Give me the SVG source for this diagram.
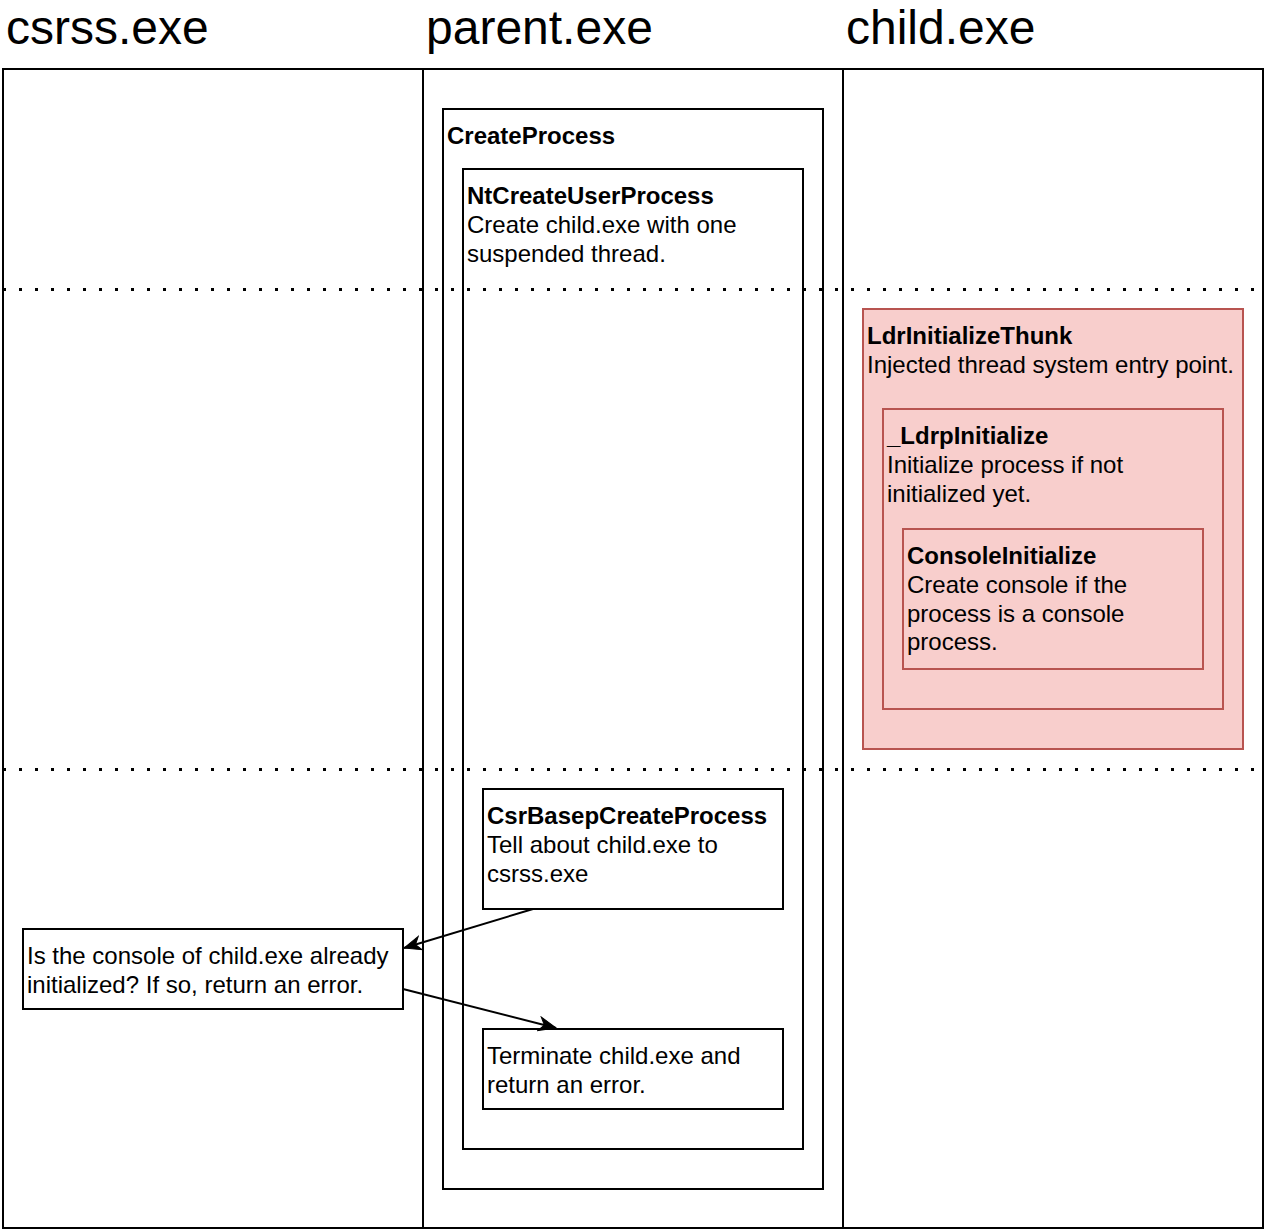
<svg xmlns="http://www.w3.org/2000/svg" width="1266" height="1230" viewBox="0 0 1266 1230">
<defs>
<style>
.hdr{font-family:"Liberation Sans",Arial,sans-serif;font-size:48px;fill:#000}
.t{font-family:"Liberation Sans",Arial,sans-serif;font-size:24px;fill:#000}
.b{font-weight:bold}
.box{fill:none;stroke:#000;stroke-width:2}
.red{fill:#f8cecc;stroke:#b85450;stroke-width:2}
.dot{stroke:#000;stroke-width:3;stroke-dasharray:3 13;fill:none}
.edge{stroke:#000;stroke-width:2;fill:none}
</style>
<marker id="arr" viewBox="-18 -8 19 16" refX="0" refY="0" markerWidth="19" markerHeight="16" markerUnits="userSpaceOnUse" orient="auto">
<path d="M0,0 L-17,-7 L-12,0 L-17,7 Z" fill="#000" stroke="#000" stroke-width="1"/>
</marker>
</defs>
<rect width="1266" height="1230" fill="#fff"/>

<g id="headers">
<text class="hdr" x="6" y="44">csrss.exe</text>
<text class="hdr" x="426" y="44">parent.exe</text>
<text class="hdr" x="846" y="44">child.exe</text>
</g>

<g id="frame">
<rect class="box" x="3" y="69" width="1260" height="1159"/>
<line class="box" x1="423" y1="69" x2="423" y2="1228"/>
<line class="box" x1="843" y1="69" x2="843" y2="1228"/>
</g>

<g id="separators">
<line class="dot" x1="3" y1="289.5" x2="1266" y2="289.5"/>
<line class="dot" x1="3" y1="769.5" x2="1266" y2="769.5"/>
</g>

<g id="createprocess">
<rect class="box" x="443" y="109" width="380" height="1080"/>
<text class="t b" x="447" y="144">CreateProcess</text>
</g>

<g id="ntcreateuserprocess">
<rect class="box" x="463" y="169" width="340" height="980"/>
<text class="t" x="467" y="204"><tspan class="b">NtCreateUserProcess</tspan><tspan x="467" y="232.8">Create child.exe with one</tspan><tspan x="467" y="261.6">suspended thread.</tspan></text>
</g>

<g id="csrbasepcreateprocess">
<rect class="box" x="483" y="789" width="300" height="120"/>
<text class="t" x="487" y="824"><tspan class="b">CsrBasepCreateProcess</tspan><tspan x="487" y="852.8">Tell about child.exe to</tspan><tspan x="487" y="881.6">csrss.exe</tspan></text>
</g>

<g id="terminate">
<rect class="box" x="483" y="1029" width="300" height="80"/>
<text class="t" x="487" y="1064">Terminate child.exe and<tspan x="487" y="1092.8">return an error.</tspan></text>
</g>

<g id="consolecheck">
<rect class="box" x="23" y="929" width="380" height="80"/>
<text class="t" x="27" y="964">Is the console of child.exe already<tspan x="27" y="992.8">initialized? If so, return an error.</tspan></text>
</g>

<g id="ldrinitializethunk">
<rect class="red" x="863" y="309" width="380" height="440"/>
<text class="t" x="867" y="344"><tspan class="b">LdrInitializeThunk</tspan><tspan x="867" y="372.8">Injected thread system entry point.</tspan></text>
</g>

<g id="ldrpinitialize">
<rect class="red" x="883" y="409" width="340" height="300"/>
<text class="t" x="887" y="444"><tspan class="b">_LdrpInitialize</tspan><tspan x="887" y="472.8">Initialize process if not</tspan><tspan x="887" y="501.6">initialized yet.</tspan></text>
</g>

<g id="consoleinitialize">
<rect class="red" x="903" y="529" width="300" height="140"/>
<text class="t" x="907" y="564"><tspan class="b">ConsoleInitialize</tspan><tspan x="907" y="592.8">Create console if the</tspan><tspan x="907" y="621.6">process is a console</tspan><tspan x="907" y="650.4">process.</tspan></text>
</g>

<g id="connectors">
<line class="edge" x1="533" y1="909" x2="404" y2="948" marker-end="url(#arr)"/>
<line class="edge" x1="403" y1="989" x2="556" y2="1028" marker-end="url(#arr)"/>
</g>
</svg>
